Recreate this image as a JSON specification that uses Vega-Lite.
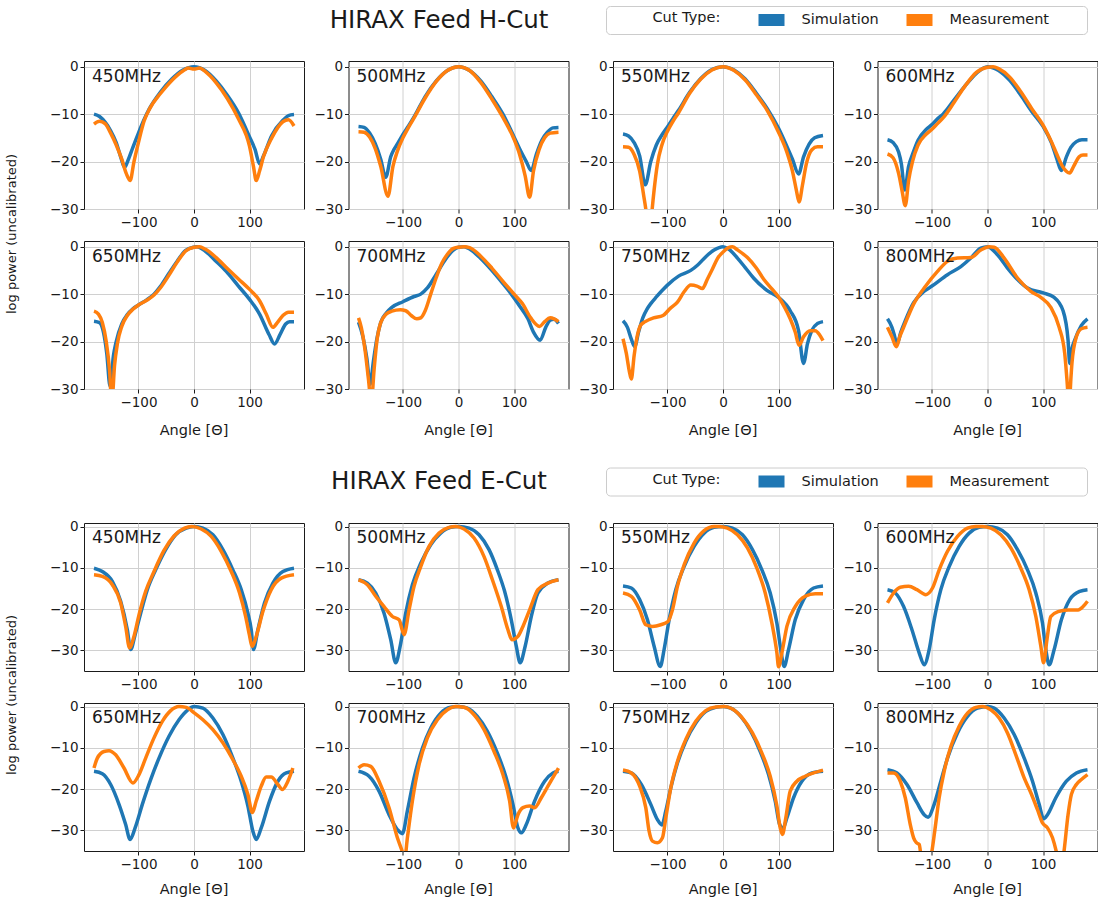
{
"$schema": "https://vega.github.io/schema/vega-lite/v6.json",
"background": "white",
"padding": 5,
"config": {
 "font": "DejaVu Sans",
 "view": {"stroke": "#1a1a1a", "strokeWidth": 1},
 "axis": {"domain": false, "grid": true, "gridColor": "#d0d0d0", "gridWidth": 1, "tickColor": "#1a1a1a", "tickSize": 4, "tickWidth": 1, "labelFontSize": 13.5, "labelColor": "#1a1a1a", "labelPadding": 2},
 "header": {"labelColor": "#1a1a1a", "titleColor": "#1a1a1a"},
 "title": {"fontSize": 24.5, "fontWeight": "normal", "color": "#1a1a1a", "baseline": "alphabetic"},
 "legend": {"direction": "horizontal", "titleOrient": "left", "titleAnchor": "start", "titleBaseline": "top", "titleFontSize": 14.5, "titleFontWeight": "normal", "titleColor": "#1a1a1a", "labelFontSize": 14.5, "labelColor": "#1a1a1a", "symbolType": "M-4,0H4", "symbolSize": 64, "symbolStrokeWidth": 12, "clipHeight": 18, "padding": 5, "strokeColor": "#cccccc", "fillColor": "#ffffff", "cornerRadius": 4, "gridAlign": "each", "columnPadding": 27, "labelOffset": 23, "titlePadding": 37.5}
},
"datasets": {
"hcut": [
{"mhz":450,"src":"Simulation","deg":-180,"db":-10},{"mhz":450,"src":"Simulation","deg":-170,"db":-10.5},{"mhz":450,"src":"Simulation","deg":-160,"db":-11.7},{"mhz":450,"src":"Simulation","deg":-150,"db":-13.5},{"mhz":450,"src":"Simulation","deg":-140,"db":-16},{"mhz":450,"src":"Simulation","deg":-132,"db":-19},{"mhz":450,"src":"Simulation","deg":-125,"db":-21.2},{"mhz":450,"src":"Simulation","deg":-118,"db":-19.5},{"mhz":450,"src":"Simulation","deg":-110,"db":-17},{"mhz":450,"src":"Simulation","deg":-100,"db":-14},{"mhz":450,"src":"Simulation","deg":-90,"db":-11.2},{"mhz":450,"src":"Simulation","deg":-80,"db":-8.8},{"mhz":450,"src":"Simulation","deg":-60,"db":-5.3},{"mhz":450,"src":"Simulation","deg":-40,"db":-2.6},{"mhz":450,"src":"Simulation","deg":-20,"db":-0.7},{"mhz":450,"src":"Simulation","deg":0,"db":0},{"mhz":450,"src":"Simulation","deg":20,"db":-0.8},{"mhz":450,"src":"Simulation","deg":40,"db":-3},{"mhz":450,"src":"Simulation","deg":60,"db":-6},{"mhz":450,"src":"Simulation","deg":80,"db":-9.7},{"mhz":450,"src":"Simulation","deg":100,"db":-14.8},{"mhz":450,"src":"Simulation","deg":110,"db":-17.5},{"mhz":450,"src":"Simulation","deg":118,"db":-20.5},{"mhz":450,"src":"Simulation","deg":125,"db":-18.8},{"mhz":450,"src":"Simulation","deg":140,"db":-14.5},{"mhz":450,"src":"Simulation","deg":160,"db":-11.3},{"mhz":450,"src":"Simulation","deg":170,"db":-10.3},{"mhz":450,"src":"Simulation","deg":180,"db":-10.1},
{"mhz":450,"src":"Measurement","deg":-180,"db":-12.1},{"mhz":450,"src":"Measurement","deg":-170,"db":-11.5},{"mhz":450,"src":"Measurement","deg":-160,"db":-12},{"mhz":450,"src":"Measurement","deg":-150,"db":-14},{"mhz":450,"src":"Measurement","deg":-140,"db":-16.5},{"mhz":450,"src":"Measurement","deg":-130,"db":-19.5},{"mhz":450,"src":"Measurement","deg":-122,"db":-22.5},{"mhz":450,"src":"Measurement","deg":-115,"db":-24},{"mhz":450,"src":"Measurement","deg":-108,"db":-20},{"mhz":450,"src":"Measurement","deg":-100,"db":-16},{"mhz":450,"src":"Measurement","deg":-90,"db":-11.5},{"mhz":450,"src":"Measurement","deg":-80,"db":-8.9},{"mhz":450,"src":"Measurement","deg":-60,"db":-5.6},{"mhz":450,"src":"Measurement","deg":-40,"db":-2.9},{"mhz":450,"src":"Measurement","deg":-20,"db":-0.9},{"mhz":450,"src":"Measurement","deg":-10,"db":-0.3},{"mhz":450,"src":"Measurement","deg":0,"db":-0.5},{"mhz":450,"src":"Measurement","deg":10,"db":-0.3},{"mhz":450,"src":"Measurement","deg":20,"db":-1},{"mhz":450,"src":"Measurement","deg":40,"db":-3.4},{"mhz":450,"src":"Measurement","deg":60,"db":-6.7},{"mhz":450,"src":"Measurement","deg":80,"db":-11},{"mhz":450,"src":"Measurement","deg":100,"db":-16.8},{"mhz":450,"src":"Measurement","deg":107,"db":-21},{"mhz":450,"src":"Measurement","deg":112,"db":-24},{"mhz":450,"src":"Measurement","deg":118,"db":-22},{"mhz":450,"src":"Measurement","deg":125,"db":-19},{"mhz":450,"src":"Measurement","deg":140,"db":-15},{"mhz":450,"src":"Measurement","deg":160,"db":-11.6},{"mhz":450,"src":"Measurement","deg":170,"db":-11.2},{"mhz":450,"src":"Measurement","deg":180,"db":-12.5},
{"mhz":500,"src":"Simulation","deg":-180,"db":-12.6},{"mhz":500,"src":"Simulation","deg":-170,"db":-12.8},{"mhz":500,"src":"Simulation","deg":-160,"db":-14},{"mhz":500,"src":"Simulation","deg":-150,"db":-16.2},{"mhz":500,"src":"Simulation","deg":-140,"db":-19.5},{"mhz":500,"src":"Simulation","deg":-131,"db":-23.3},{"mhz":500,"src":"Simulation","deg":-122,"db":-19},{"mhz":500,"src":"Simulation","deg":-116,"db":-17.4},{"mhz":500,"src":"Simulation","deg":-110,"db":-16.3},{"mhz":500,"src":"Simulation","deg":-100,"db":-14.3},{"mhz":500,"src":"Simulation","deg":-90,"db":-12.5},{"mhz":500,"src":"Simulation","deg":-80,"db":-10.6},{"mhz":500,"src":"Simulation","deg":-60,"db":-6.3},{"mhz":500,"src":"Simulation","deg":-40,"db":-3},{"mhz":500,"src":"Simulation","deg":-20,"db":-0.8},{"mhz":500,"src":"Simulation","deg":0,"db":0},{"mhz":500,"src":"Simulation","deg":20,"db":-0.8},{"mhz":500,"src":"Simulation","deg":40,"db":-3},{"mhz":500,"src":"Simulation","deg":60,"db":-6.3},{"mhz":500,"src":"Simulation","deg":80,"db":-10},{"mhz":500,"src":"Simulation","deg":100,"db":-14.8},{"mhz":500,"src":"Simulation","deg":110,"db":-17.3},{"mhz":500,"src":"Simulation","deg":122,"db":-20},{"mhz":500,"src":"Simulation","deg":131,"db":-21.9},{"mhz":500,"src":"Simulation","deg":140,"db":-18.5},{"mhz":500,"src":"Simulation","deg":150,"db":-15.5},{"mhz":500,"src":"Simulation","deg":160,"db":-13.8},{"mhz":500,"src":"Simulation","deg":170,"db":-12.9},{"mhz":500,"src":"Simulation","deg":180,"db":-12.8},
{"mhz":500,"src":"Measurement","deg":-180,"db":-13.7},{"mhz":500,"src":"Measurement","deg":-170,"db":-13.8},{"mhz":500,"src":"Measurement","deg":-160,"db":-14.8},{"mhz":500,"src":"Measurement","deg":-150,"db":-17.2},{"mhz":500,"src":"Measurement","deg":-140,"db":-21},{"mhz":500,"src":"Measurement","deg":-127,"db":-27.3},{"mhz":500,"src":"Measurement","deg":-118,"db":-21},{"mhz":500,"src":"Measurement","deg":-110,"db":-17.8},{"mhz":500,"src":"Measurement","deg":-100,"db":-15},{"mhz":500,"src":"Measurement","deg":-90,"db":-12.8},{"mhz":500,"src":"Measurement","deg":-80,"db":-10.8},{"mhz":500,"src":"Measurement","deg":-60,"db":-6.6},{"mhz":500,"src":"Measurement","deg":-40,"db":-3.1},{"mhz":500,"src":"Measurement","deg":-20,"db":-0.8},{"mhz":500,"src":"Measurement","deg":0,"db":0},{"mhz":500,"src":"Measurement","deg":20,"db":-0.8},{"mhz":500,"src":"Measurement","deg":40,"db":-3.3},{"mhz":500,"src":"Measurement","deg":60,"db":-6.8},{"mhz":500,"src":"Measurement","deg":80,"db":-10.7},{"mhz":500,"src":"Measurement","deg":100,"db":-15.3},{"mhz":500,"src":"Measurement","deg":110,"db":-18.5},{"mhz":500,"src":"Measurement","deg":120,"db":-23},{"mhz":500,"src":"Measurement","deg":128,"db":-27.5},{"mhz":500,"src":"Measurement","deg":135,"db":-22},{"mhz":500,"src":"Measurement","deg":145,"db":-17.5},{"mhz":500,"src":"Measurement","deg":155,"db":-15},{"mhz":500,"src":"Measurement","deg":165,"db":-14},{"mhz":500,"src":"Measurement","deg":180,"db":-13.8},
{"mhz":550,"src":"Simulation","deg":-180,"db":-14.2},{"mhz":550,"src":"Simulation","deg":-170,"db":-14.6},{"mhz":550,"src":"Simulation","deg":-160,"db":-16},{"mhz":550,"src":"Simulation","deg":-150,"db":-18.8},{"mhz":550,"src":"Simulation","deg":-140,"db":-24.9},{"mhz":550,"src":"Simulation","deg":-130,"db":-20},{"mhz":550,"src":"Simulation","deg":-120,"db":-16.5},{"mhz":550,"src":"Simulation","deg":-110,"db":-14.4},{"mhz":550,"src":"Simulation","deg":-100,"db":-12.7},{"mhz":550,"src":"Simulation","deg":-90,"db":-10.9},{"mhz":550,"src":"Simulation","deg":-80,"db":-9.2},{"mhz":550,"src":"Simulation","deg":-60,"db":-5.4},{"mhz":550,"src":"Simulation","deg":-40,"db":-2.5},{"mhz":550,"src":"Simulation","deg":-20,"db":-0.6},{"mhz":550,"src":"Simulation","deg":0,"db":0},{"mhz":550,"src":"Simulation","deg":20,"db":-0.7},{"mhz":550,"src":"Simulation","deg":40,"db":-2.6},{"mhz":550,"src":"Simulation","deg":60,"db":-5.6},{"mhz":550,"src":"Simulation","deg":80,"db":-8.9},{"mhz":550,"src":"Simulation","deg":100,"db":-13},{"mhz":550,"src":"Simulation","deg":115,"db":-16.8},{"mhz":550,"src":"Simulation","deg":125,"db":-19.5},{"mhz":550,"src":"Simulation","deg":136,"db":-22.6},{"mhz":550,"src":"Simulation","deg":145,"db":-19},{"mhz":550,"src":"Simulation","deg":155,"db":-16.3},{"mhz":550,"src":"Simulation","deg":165,"db":-15},{"mhz":550,"src":"Simulation","deg":180,"db":-14.5},
{"mhz":550,"src":"Measurement","deg":-180,"db":-16.9},{"mhz":550,"src":"Measurement","deg":-170,"db":-17},{"mhz":550,"src":"Measurement","deg":-160,"db":-18.5},{"mhz":550,"src":"Measurement","deg":-150,"db":-22},{"mhz":550,"src":"Measurement","deg":-143,"db":-27},{"mhz":550,"src":"Measurement","deg":-137,"db":-32},{"mhz":550,"src":"Measurement","deg":-133,"db":-38},{"mhz":550,"src":"Measurement","deg":-129,"db":-32},{"mhz":550,"src":"Measurement","deg":-124,"db":-26},{"mhz":550,"src":"Measurement","deg":-118,"db":-20.5},{"mhz":550,"src":"Measurement","deg":-110,"db":-16.5},{"mhz":550,"src":"Measurement","deg":-100,"db":-13.6},{"mhz":550,"src":"Measurement","deg":-90,"db":-11.5},{"mhz":550,"src":"Measurement","deg":-80,"db":-9.7},{"mhz":550,"src":"Measurement","deg":-60,"db":-5.6},{"mhz":550,"src":"Measurement","deg":-40,"db":-2.6},{"mhz":550,"src":"Measurement","deg":-20,"db":-0.7},{"mhz":550,"src":"Measurement","deg":0,"db":0},{"mhz":550,"src":"Measurement","deg":20,"db":-0.8},{"mhz":550,"src":"Measurement","deg":40,"db":-2.8},{"mhz":550,"src":"Measurement","deg":60,"db":-5.9},{"mhz":550,"src":"Measurement","deg":80,"db":-9.3},{"mhz":550,"src":"Measurement","deg":100,"db":-13.8},{"mhz":550,"src":"Measurement","deg":115,"db":-18},{"mhz":550,"src":"Measurement","deg":125,"db":-22},{"mhz":550,"src":"Measurement","deg":132,"db":-26},{"mhz":550,"src":"Measurement","deg":137,"db":-28.5},{"mhz":550,"src":"Measurement","deg":143,"db":-25},{"mhz":550,"src":"Measurement","deg":150,"db":-20.5},{"mhz":550,"src":"Measurement","deg":160,"db":-17.5},{"mhz":550,"src":"Measurement","deg":170,"db":-16.9},{"mhz":550,"src":"Measurement","deg":180,"db":-16.9},
{"mhz":600,"src":"Simulation","deg":-180,"db":-15.4},{"mhz":600,"src":"Simulation","deg":-170,"db":-16},{"mhz":600,"src":"Simulation","deg":-160,"db":-18},{"mhz":600,"src":"Simulation","deg":-155,"db":-20.5},{"mhz":600,"src":"Simulation","deg":-149,"db":-26},{"mhz":600,"src":"Simulation","deg":-142,"db":-21},{"mhz":600,"src":"Simulation","deg":-135,"db":-18.5},{"mhz":600,"src":"Simulation","deg":-125,"db":-15.5},{"mhz":600,"src":"Simulation","deg":-110,"db":-13.2},{"mhz":600,"src":"Simulation","deg":-100,"db":-12.2},{"mhz":600,"src":"Simulation","deg":-90,"db":-11},{"mhz":600,"src":"Simulation","deg":-80,"db":-10},{"mhz":600,"src":"Simulation","deg":-60,"db":-7},{"mhz":600,"src":"Simulation","deg":-40,"db":-4},{"mhz":600,"src":"Simulation","deg":-20,"db":-1.4},{"mhz":600,"src":"Simulation","deg":0,"db":0},{"mhz":600,"src":"Simulation","deg":20,"db":-0.8},{"mhz":600,"src":"Simulation","deg":40,"db":-2.9},{"mhz":600,"src":"Simulation","deg":60,"db":-6},{"mhz":600,"src":"Simulation","deg":80,"db":-9.5},{"mhz":600,"src":"Simulation","deg":100,"db":-12.6},{"mhz":600,"src":"Simulation","deg":115,"db":-16},{"mhz":600,"src":"Simulation","deg":125,"db":-19.5},{"mhz":600,"src":"Simulation","deg":133,"db":-21.9},{"mhz":600,"src":"Simulation","deg":142,"db":-19},{"mhz":600,"src":"Simulation","deg":150,"db":-17},{"mhz":600,"src":"Simulation","deg":160,"db":-15.8},{"mhz":600,"src":"Simulation","deg":170,"db":-15.4},{"mhz":600,"src":"Simulation","deg":180,"db":-15.4},
{"mhz":600,"src":"Measurement","deg":-180,"db":-18.4},{"mhz":600,"src":"Measurement","deg":-170,"db":-19.2},{"mhz":600,"src":"Measurement","deg":-160,"db":-22.5},{"mhz":600,"src":"Measurement","deg":-154,"db":-26},{"mhz":600,"src":"Measurement","deg":-148,"db":-29.3},{"mhz":600,"src":"Measurement","deg":-142,"db":-24},{"mhz":600,"src":"Measurement","deg":-135,"db":-20},{"mhz":600,"src":"Measurement","deg":-125,"db":-16.5},{"mhz":600,"src":"Measurement","deg":-110,"db":-14.2},{"mhz":600,"src":"Measurement","deg":-100,"db":-13.2},{"mhz":600,"src":"Measurement","deg":-90,"db":-12},{"mhz":600,"src":"Measurement","deg":-80,"db":-10.8},{"mhz":600,"src":"Measurement","deg":-60,"db":-7.5},{"mhz":600,"src":"Measurement","deg":-40,"db":-4},{"mhz":600,"src":"Measurement","deg":-20,"db":-1.2},{"mhz":600,"src":"Measurement","deg":0,"db":-0.1},{"mhz":600,"src":"Measurement","deg":10,"db":0},{"mhz":600,"src":"Measurement","deg":20,"db":-0.4},{"mhz":600,"src":"Measurement","deg":40,"db":-2.2},{"mhz":600,"src":"Measurement","deg":60,"db":-5.3},{"mhz":600,"src":"Measurement","deg":80,"db":-8.9},{"mhz":600,"src":"Measurement","deg":100,"db":-12.3},{"mhz":600,"src":"Measurement","deg":115,"db":-15.8},{"mhz":600,"src":"Measurement","deg":125,"db":-18.5},{"mhz":600,"src":"Measurement","deg":135,"db":-21},{"mhz":600,"src":"Measurement","deg":148,"db":-22.4},{"mhz":600,"src":"Measurement","deg":155,"db":-21},{"mhz":600,"src":"Measurement","deg":165,"db":-19},{"mhz":600,"src":"Measurement","deg":172,"db":-18.6},{"mhz":600,"src":"Measurement","deg":180,"db":-18.6},
{"mhz":650,"src":"Simulation","deg":-180,"db":-15.7},{"mhz":650,"src":"Simulation","deg":-170,"db":-16},{"mhz":650,"src":"Simulation","deg":-163,"db":-18},{"mhz":650,"src":"Simulation","deg":-157,"db":-22.5},{"mhz":650,"src":"Simulation","deg":-151,"db":-29.5},{"mhz":650,"src":"Simulation","deg":-145,"db":-23},{"mhz":650,"src":"Simulation","deg":-140,"db":-20},{"mhz":650,"src":"Simulation","deg":-130,"db":-16.3},{"mhz":650,"src":"Simulation","deg":-120,"db":-14.3},{"mhz":650,"src":"Simulation","deg":-110,"db":-13.1},{"mhz":650,"src":"Simulation","deg":-100,"db":-12.3},{"mhz":650,"src":"Simulation","deg":-85,"db":-11.2},{"mhz":650,"src":"Simulation","deg":-72,"db":-10},{"mhz":650,"src":"Simulation","deg":-60,"db":-8.3},{"mhz":650,"src":"Simulation","deg":-45,"db":-5.6},{"mhz":650,"src":"Simulation","deg":-30,"db":-3},{"mhz":650,"src":"Simulation","deg":-15,"db":-0.8},{"mhz":650,"src":"Simulation","deg":0,"db":-0.1},{"mhz":650,"src":"Simulation","deg":5,"db":0},{"mhz":650,"src":"Simulation","deg":20,"db":-0.9},{"mhz":650,"src":"Simulation","deg":40,"db":-3.1},{"mhz":650,"src":"Simulation","deg":58,"db":-5.2},{"mhz":650,"src":"Simulation","deg":80,"db":-8.3},{"mhz":650,"src":"Simulation","deg":100,"db":-11.1},{"mhz":650,"src":"Simulation","deg":118,"db":-14.2},{"mhz":650,"src":"Simulation","deg":135,"db":-18.5},{"mhz":650,"src":"Simulation","deg":145,"db":-20.5},{"mhz":650,"src":"Simulation","deg":155,"db":-18.5},{"mhz":650,"src":"Simulation","deg":165,"db":-16.3},{"mhz":650,"src":"Simulation","deg":172,"db":-15.8},{"mhz":650,"src":"Simulation","deg":180,"db":-15.8},
{"mhz":650,"src":"Measurement","deg":-180,"db":-13.6},{"mhz":650,"src":"Measurement","deg":-172,"db":-14.2},{"mhz":650,"src":"Measurement","deg":-165,"db":-16},{"mhz":650,"src":"Measurement","deg":-158,"db":-20},{"mhz":650,"src":"Measurement","deg":-152,"db":-26},{"mhz":650,"src":"Measurement","deg":-148,"db":-33},{"mhz":650,"src":"Measurement","deg":-143,"db":-25},{"mhz":650,"src":"Measurement","deg":-138,"db":-20.5},{"mhz":650,"src":"Measurement","deg":-130,"db":-16.8},{"mhz":650,"src":"Measurement","deg":-120,"db":-14.5},{"mhz":650,"src":"Measurement","deg":-110,"db":-13.2},{"mhz":650,"src":"Measurement","deg":-100,"db":-12.3},{"mhz":650,"src":"Measurement","deg":-85,"db":-11.3},{"mhz":650,"src":"Measurement","deg":-72,"db":-10.2},{"mhz":650,"src":"Measurement","deg":-60,"db":-8.6},{"mhz":650,"src":"Measurement","deg":-45,"db":-6},{"mhz":650,"src":"Measurement","deg":-30,"db":-3.2},{"mhz":650,"src":"Measurement","deg":-15,"db":-0.9},{"mhz":650,"src":"Measurement","deg":0,"db":-0.1},{"mhz":650,"src":"Measurement","deg":10,"db":0},{"mhz":650,"src":"Measurement","deg":20,"db":-0.5},{"mhz":650,"src":"Measurement","deg":40,"db":-2.3},{"mhz":650,"src":"Measurement","deg":60,"db":-4.6},{"mhz":650,"src":"Measurement","deg":80,"db":-6.8},{"mhz":650,"src":"Measurement","deg":100,"db":-9},{"mhz":650,"src":"Measurement","deg":118,"db":-11.4},{"mhz":650,"src":"Measurement","deg":130,"db":-14.2},{"mhz":650,"src":"Measurement","deg":142,"db":-17},{"mhz":650,"src":"Measurement","deg":150,"db":-16},{"mhz":650,"src":"Measurement","deg":160,"db":-14.5},{"mhz":650,"src":"Measurement","deg":170,"db":-13.8},{"mhz":650,"src":"Measurement","deg":180,"db":-13.8},
{"mhz":700,"src":"Simulation","deg":-180,"db":-15.9},{"mhz":700,"src":"Simulation","deg":-172,"db":-19},{"mhz":700,"src":"Simulation","deg":-165,"db":-23.5},{"mhz":700,"src":"Simulation","deg":-159,"db":-29},{"mhz":700,"src":"Simulation","deg":-153,"db":-24},{"mhz":700,"src":"Simulation","deg":-147,"db":-19.5},{"mhz":700,"src":"Simulation","deg":-140,"db":-16},{"mhz":700,"src":"Simulation","deg":-130,"db":-14},{"mhz":700,"src":"Simulation","deg":-120,"db":-12.8},{"mhz":700,"src":"Simulation","deg":-100,"db":-11.6},{"mhz":700,"src":"Simulation","deg":-80,"db":-10.5},{"mhz":700,"src":"Simulation","deg":-68,"db":-10},{"mhz":700,"src":"Simulation","deg":-56,"db":-8.7},{"mhz":700,"src":"Simulation","deg":-40,"db":-5.8},{"mhz":700,"src":"Simulation","deg":-26,"db":-3.1},{"mhz":700,"src":"Simulation","deg":-10,"db":-0.8},{"mhz":700,"src":"Simulation","deg":0,"db":-0.1},{"mhz":700,"src":"Simulation","deg":10,"db":0},{"mhz":700,"src":"Simulation","deg":20,"db":-0.5},{"mhz":700,"src":"Simulation","deg":40,"db":-2.5},{"mhz":700,"src":"Simulation","deg":60,"db":-5},{"mhz":700,"src":"Simulation","deg":80,"db":-7.8},{"mhz":700,"src":"Simulation","deg":95,"db":-10},{"mhz":700,"src":"Simulation","deg":110,"db":-12.5},{"mhz":700,"src":"Simulation","deg":125,"db":-15.2},{"mhz":700,"src":"Simulation","deg":135,"db":-18},{"mhz":700,"src":"Simulation","deg":147,"db":-19.7},{"mhz":700,"src":"Simulation","deg":157,"db":-17},{"mhz":700,"src":"Simulation","deg":165,"db":-15.5},{"mhz":700,"src":"Simulation","deg":172,"db":-15.3},{"mhz":700,"src":"Simulation","deg":180,"db":-16.2},
{"mhz":700,"src":"Measurement","deg":-180,"db":-15},{"mhz":700,"src":"Measurement","deg":-175,"db":-17},{"mhz":700,"src":"Measurement","deg":-168,"db":-22},{"mhz":700,"src":"Measurement","deg":-162,"db":-28},{"mhz":700,"src":"Measurement","deg":-157,"db":-33},{"mhz":700,"src":"Measurement","deg":-152,"db":-26},{"mhz":700,"src":"Measurement","deg":-147,"db":-20},{"mhz":700,"src":"Measurement","deg":-140,"db":-16},{"mhz":700,"src":"Measurement","deg":-130,"db":-14.2},{"mhz":700,"src":"Measurement","deg":-120,"db":-13.6},{"mhz":700,"src":"Measurement","deg":-105,"db":-13.3},{"mhz":700,"src":"Measurement","deg":-95,"db":-13.5},{"mhz":700,"src":"Measurement","deg":-85,"db":-14.5},{"mhz":700,"src":"Measurement","deg":-75,"db":-15.2},{"mhz":700,"src":"Measurement","deg":-68,"db":-15},{"mhz":700,"src":"Measurement","deg":-60,"db":-13.5},{"mhz":700,"src":"Measurement","deg":-50,"db":-10},{"mhz":700,"src":"Measurement","deg":-40,"db":-6.5},{"mhz":700,"src":"Measurement","deg":-30,"db":-3.5},{"mhz":700,"src":"Measurement","deg":-20,"db":-1.6},{"mhz":700,"src":"Measurement","deg":-10,"db":-0.4},{"mhz":700,"src":"Measurement","deg":0,"db":-0.1},{"mhz":700,"src":"Measurement","deg":10,"db":0},{"mhz":700,"src":"Measurement","deg":20,"db":-0.2},{"mhz":700,"src":"Measurement","deg":40,"db":-2},{"mhz":700,"src":"Measurement","deg":60,"db":-4.5},{"mhz":700,"src":"Measurement","deg":80,"db":-7.3},{"mhz":700,"src":"Measurement","deg":100,"db":-10},{"mhz":700,"src":"Measurement","deg":115,"db":-12},{"mhz":700,"src":"Measurement","deg":130,"db":-15},{"mhz":700,"src":"Measurement","deg":146,"db":-16.8},{"mhz":700,"src":"Measurement","deg":155,"db":-15.8},{"mhz":700,"src":"Measurement","deg":165,"db":-15},{"mhz":700,"src":"Measurement","deg":172,"db":-15.2},{"mhz":700,"src":"Measurement","deg":180,"db":-15.8},
{"mhz":750,"src":"Simulation","deg":-180,"db":-15.6},{"mhz":750,"src":"Simulation","deg":-172,"db":-17},{"mhz":750,"src":"Simulation","deg":-165,"db":-19.5},{"mhz":750,"src":"Simulation","deg":-159,"db":-21.1},{"mhz":750,"src":"Simulation","deg":-152,"db":-18},{"mhz":750,"src":"Simulation","deg":-144,"db":-14.9},{"mhz":750,"src":"Simulation","deg":-137,"db":-13.2},{"mhz":750,"src":"Simulation","deg":-130,"db":-12},{"mhz":750,"src":"Simulation","deg":-120,"db":-10.6},{"mhz":750,"src":"Simulation","deg":-110,"db":-9.3},{"mhz":750,"src":"Simulation","deg":-100,"db":-8.1},{"mhz":750,"src":"Simulation","deg":-80,"db":-6.2},{"mhz":750,"src":"Simulation","deg":-58,"db":-5},{"mhz":750,"src":"Simulation","deg":-45,"db":-3.8},{"mhz":750,"src":"Simulation","deg":-30,"db":-2},{"mhz":750,"src":"Simulation","deg":-16,"db":-0.7},{"mhz":750,"src":"Simulation","deg":0,"db":0},{"mhz":750,"src":"Simulation","deg":10,"db":-0.5},{"mhz":750,"src":"Simulation","deg":26,"db":-2.4},{"mhz":750,"src":"Simulation","deg":40,"db":-4.4},{"mhz":750,"src":"Simulation","deg":55,"db":-6.6},{"mhz":750,"src":"Simulation","deg":79,"db":-9.2},{"mhz":750,"src":"Simulation","deg":100,"db":-10.7},{"mhz":750,"src":"Simulation","deg":121,"db":-13.5},{"mhz":750,"src":"Simulation","deg":136,"db":-17.7},{"mhz":750,"src":"Simulation","deg":145,"db":-24.6},{"mhz":750,"src":"Simulation","deg":152,"db":-20.5},{"mhz":750,"src":"Simulation","deg":160,"db":-17.6},{"mhz":750,"src":"Simulation","deg":170,"db":-16.2},{"mhz":750,"src":"Simulation","deg":180,"db":-15.8},
{"mhz":750,"src":"Measurement","deg":-180,"db":-19.4},{"mhz":750,"src":"Measurement","deg":-174,"db":-22.5},{"mhz":750,"src":"Measurement","deg":-169,"db":-26},{"mhz":750,"src":"Measurement","deg":-165,"db":-27.9},{"mhz":750,"src":"Measurement","deg":-160,"db":-23},{"mhz":750,"src":"Measurement","deg":-155,"db":-19.2},{"mhz":750,"src":"Measurement","deg":-148,"db":-16.5},{"mhz":750,"src":"Measurement","deg":-140,"db":-15.8},{"mhz":750,"src":"Measurement","deg":-125,"db":-15},{"mhz":750,"src":"Measurement","deg":-108,"db":-14.5},{"mhz":750,"src":"Measurement","deg":-95,"db":-13},{"mhz":750,"src":"Measurement","deg":-82,"db":-11.7},{"mhz":750,"src":"Measurement","deg":-70,"db":-9.5},{"mhz":750,"src":"Measurement","deg":-58,"db":-8.1},{"mhz":750,"src":"Measurement","deg":-47,"db":-8.3},{"mhz":750,"src":"Measurement","deg":-37,"db":-8.8},{"mhz":750,"src":"Measurement","deg":-28,"db":-6.8},{"mhz":750,"src":"Measurement","deg":-19,"db":-4.7},{"mhz":750,"src":"Measurement","deg":-10,"db":-2.5},{"mhz":750,"src":"Measurement","deg":2,"db":-0.9},{"mhz":750,"src":"Measurement","deg":10,"db":-0.2},{"mhz":750,"src":"Measurement","deg":17,"db":0},{"mhz":750,"src":"Measurement","deg":25,"db":-0.6},{"mhz":750,"src":"Measurement","deg":44,"db":-2.3},{"mhz":750,"src":"Measurement","deg":60,"db":-4.5},{"mhz":750,"src":"Measurement","deg":73,"db":-6.8},{"mhz":750,"src":"Measurement","deg":88,"db":-8.9},{"mhz":750,"src":"Measurement","deg":100,"db":-10.6},{"mhz":750,"src":"Measurement","deg":111,"db":-12.8},{"mhz":750,"src":"Measurement","deg":121,"db":-15.2},{"mhz":750,"src":"Measurement","deg":130,"db":-18},{"mhz":750,"src":"Measurement","deg":137,"db":-20.8},{"mhz":750,"src":"Measurement","deg":145,"db":-19},{"mhz":750,"src":"Measurement","deg":157,"db":-17.7},{"mhz":750,"src":"Measurement","deg":166,"db":-17.7},{"mhz":750,"src":"Measurement","deg":174,"db":-18.6},{"mhz":750,"src":"Measurement","deg":180,"db":-19.8},
{"mhz":800,"src":"Simulation","deg":-180,"db":-15.2},{"mhz":800,"src":"Simulation","deg":-172,"db":-17},{"mhz":800,"src":"Simulation","deg":-168,"db":-18.5},{"mhz":800,"src":"Simulation","deg":-163,"db":-20.6},{"mhz":800,"src":"Simulation","deg":-156,"db":-18},{"mhz":800,"src":"Simulation","deg":-148,"db":-15.6},{"mhz":800,"src":"Simulation","deg":-133,"db":-11.8},{"mhz":800,"src":"Simulation","deg":-114,"db":-9.4},{"mhz":800,"src":"Simulation","deg":-100,"db":-8.3},{"mhz":800,"src":"Simulation","deg":-72,"db":-5.9},{"mhz":800,"src":"Simulation","deg":-48,"db":-4.2},{"mhz":800,"src":"Simulation","deg":-30,"db":-2.4},{"mhz":800,"src":"Simulation","deg":-12,"db":-0.3},{"mhz":800,"src":"Simulation","deg":0,"db":0},{"mhz":800,"src":"Simulation","deg":18,"db":-1.7},{"mhz":800,"src":"Simulation","deg":36,"db":-4.5},{"mhz":800,"src":"Simulation","deg":54,"db":-6.9},{"mhz":800,"src":"Simulation","deg":72,"db":-8.7},{"mhz":800,"src":"Simulation","deg":99,"db":-9.7},{"mhz":800,"src":"Simulation","deg":120,"db":-10.7},{"mhz":800,"src":"Simulation","deg":136,"db":-13.5},{"mhz":800,"src":"Simulation","deg":145,"db":-19.7},{"mhz":800,"src":"Simulation","deg":148,"db":-24.6},{"mhz":800,"src":"Simulation","deg":152,"db":-21.5},{"mhz":800,"src":"Simulation","deg":157,"db":-19.7},{"mhz":800,"src":"Simulation","deg":169,"db":-16.6},{"mhz":800,"src":"Simulation","deg":180,"db":-15.2},
{"mhz":800,"src":"Measurement","deg":-180,"db":-17},{"mhz":800,"src":"Measurement","deg":-172,"db":-19},{"mhz":800,"src":"Measurement","deg":-164,"db":-21.1},{"mhz":800,"src":"Measurement","deg":-158,"db":-19},{"mhz":800,"src":"Measurement","deg":-151,"db":-17},{"mhz":800,"src":"Measurement","deg":-133,"db":-12.1},{"mhz":800,"src":"Measurement","deg":-114,"db":-8.7},{"mhz":800,"src":"Measurement","deg":-90,"db":-5.2},{"mhz":800,"src":"Measurement","deg":-72,"db":-3.1},{"mhz":800,"src":"Measurement","deg":-54,"db":-2.4},{"mhz":800,"src":"Measurement","deg":-30,"db":-2.3},{"mhz":800,"src":"Measurement","deg":-12,"db":-0.7},{"mhz":800,"src":"Measurement","deg":3,"db":0},{"mhz":800,"src":"Measurement","deg":12,"db":-0.1},{"mhz":800,"src":"Measurement","deg":30,"db":-2.4},{"mhz":800,"src":"Measurement","deg":54,"db":-6.6},{"mhz":800,"src":"Measurement","deg":78,"db":-9.4},{"mhz":800,"src":"Measurement","deg":96,"db":-10.7},{"mhz":800,"src":"Measurement","deg":114,"db":-12.8},{"mhz":800,"src":"Measurement","deg":129,"db":-17},{"mhz":800,"src":"Measurement","deg":139,"db":-22.5},{"mhz":800,"src":"Measurement","deg":143,"db":-28},{"mhz":800,"src":"Measurement","deg":147,"db":-34},{"mhz":800,"src":"Measurement","deg":150,"db":-28},{"mhz":800,"src":"Measurement","deg":152,"db":-24.6},{"mhz":800,"src":"Measurement","deg":160,"db":-19},{"mhz":800,"src":"Measurement","deg":169,"db":-17.3},{"mhz":800,"src":"Measurement","deg":180,"db":-17}
],
"ecut": [
{"mhz":450,"src":"Simulation","deg":-180,"db":-10.1},{"mhz":450,"src":"Simulation","deg":-165,"db":-10.9},{"mhz":450,"src":"Simulation","deg":-147,"db":-13.3},{"mhz":450,"src":"Simulation","deg":-132,"db":-18.1},{"mhz":450,"src":"Simulation","deg":-120,"db":-25},{"mhz":450,"src":"Simulation","deg":-114,"db":-29.8},{"mhz":450,"src":"Simulation","deg":-106,"db":-26.2},{"mhz":450,"src":"Simulation","deg":-96,"db":-21},{"mhz":450,"src":"Simulation","deg":-84,"db":-15.3},{"mhz":450,"src":"Simulation","deg":-69,"db":-10.5},{"mhz":450,"src":"Simulation","deg":-51,"db":-5.6},{"mhz":450,"src":"Simulation","deg":-33,"db":-2},{"mhz":450,"src":"Simulation","deg":-14,"db":-0.4},{"mhz":450,"src":"Simulation","deg":0,"db":0},{"mhz":450,"src":"Simulation","deg":16,"db":-0.4},{"mhz":450,"src":"Simulation","deg":34,"db":-2},{"mhz":450,"src":"Simulation","deg":52,"db":-5.6},{"mhz":450,"src":"Simulation","deg":70,"db":-10.5},{"mhz":450,"src":"Simulation","deg":85,"db":-15.3},{"mhz":450,"src":"Simulation","deg":97,"db":-21},{"mhz":450,"src":"Simulation","deg":103,"db":-25},{"mhz":450,"src":"Simulation","deg":107,"db":-29.8},{"mhz":450,"src":"Simulation","deg":115,"db":-25},{"mhz":450,"src":"Simulation","deg":127,"db":-18.5},{"mhz":450,"src":"Simulation","deg":142,"db":-13.7},{"mhz":450,"src":"Simulation","deg":160,"db":-10.9},{"mhz":450,"src":"Simulation","deg":180,"db":-10.1},
{"mhz":450,"src":"Measurement","deg":-180,"db":-11.7},{"mhz":450,"src":"Measurement","deg":-165,"db":-12.1},{"mhz":450,"src":"Measurement","deg":-147,"db":-14.1},{"mhz":450,"src":"Measurement","deg":-132,"db":-18.5},{"mhz":450,"src":"Measurement","deg":-123,"db":-24.2},{"mhz":450,"src":"Measurement","deg":-116,"db":-29.4},{"mhz":450,"src":"Measurement","deg":-108,"db":-26.6},{"mhz":450,"src":"Measurement","deg":-99,"db":-21.4},{"mhz":450,"src":"Measurement","deg":-87,"db":-15.7},{"mhz":450,"src":"Measurement","deg":-72,"db":-10.9},{"mhz":450,"src":"Measurement","deg":-54,"db":-5.8},{"mhz":450,"src":"Measurement","deg":-36,"db":-2.3},{"mhz":450,"src":"Measurement","deg":-17,"db":-0.4},{"mhz":450,"src":"Measurement","deg":-4,"db":0},{"mhz":450,"src":"Measurement","deg":13,"db":-0.6},{"mhz":450,"src":"Measurement","deg":31,"db":-2.4},{"mhz":450,"src":"Measurement","deg":49,"db":-6},{"mhz":450,"src":"Measurement","deg":67,"db":-10.9},{"mhz":450,"src":"Measurement","deg":82,"db":-16.1},{"mhz":450,"src":"Measurement","deg":93,"db":-21.8},{"mhz":450,"src":"Measurement","deg":99,"db":-25.8},{"mhz":450,"src":"Measurement","deg":105,"db":-29},{"mhz":450,"src":"Measurement","deg":112,"db":-26.6},{"mhz":450,"src":"Measurement","deg":124,"db":-20.6},{"mhz":450,"src":"Measurement","deg":139,"db":-15.3},{"mhz":450,"src":"Measurement","deg":157,"db":-12.5},{"mhz":450,"src":"Measurement","deg":180,"db":-11.7},
{"mhz":500,"src":"Simulation","deg":-180,"db":-12.9},{"mhz":500,"src":"Simulation","deg":-164,"db":-13.7},{"mhz":500,"src":"Simulation","deg":-149,"db":-16.1},{"mhz":500,"src":"Simulation","deg":-134,"db":-21},{"mhz":500,"src":"Simulation","deg":-122,"db":-27.4},{"mhz":500,"src":"Simulation","deg":-113,"db":-33},{"mhz":500,"src":"Simulation","deg":-105,"db":-29},{"mhz":500,"src":"Simulation","deg":-95,"db":-21},{"mhz":500,"src":"Simulation","deg":-83,"db":-14.1},{"mhz":500,"src":"Simulation","deg":-68,"db":-8.9},{"mhz":500,"src":"Simulation","deg":-50,"db":-4.4},{"mhz":500,"src":"Simulation","deg":-32,"db":-1.6},{"mhz":500,"src":"Simulation","deg":-14,"db":-0.2},{"mhz":500,"src":"Simulation","deg":0,"db":0},{"mhz":500,"src":"Simulation","deg":19,"db":-0.4},{"mhz":500,"src":"Simulation","deg":37,"db":-2},{"mhz":500,"src":"Simulation","deg":55,"db":-5.6},{"mhz":500,"src":"Simulation","deg":70,"db":-10.5},{"mhz":500,"src":"Simulation","deg":83,"db":-15.7},{"mhz":500,"src":"Simulation","deg":95,"db":-22.6},{"mhz":500,"src":"Simulation","deg":104,"db":-29},{"mhz":500,"src":"Simulation","deg":111,"db":-33},{"mhz":500,"src":"Simulation","deg":120,"db":-29},{"mhz":500,"src":"Simulation","deg":131,"db":-21.8},{"mhz":500,"src":"Simulation","deg":143,"db":-16.1},{"mhz":500,"src":"Simulation","deg":161,"db":-13.7},{"mhz":500,"src":"Simulation","deg":180,"db":-12.9},
{"mhz":500,"src":"Measurement","deg":-180,"db":-12.9},{"mhz":500,"src":"Measurement","deg":-164,"db":-14.1},{"mhz":500,"src":"Measurement","deg":-149,"db":-16.9},{"mhz":500,"src":"Measurement","deg":-134,"db":-19.4},{"mhz":500,"src":"Measurement","deg":-119,"db":-21.8},{"mhz":500,"src":"Measurement","deg":-107,"db":-22.6},{"mhz":500,"src":"Measurement","deg":-98,"db":-26.2},{"mhz":500,"src":"Measurement","deg":-89,"db":-20.2},{"mhz":500,"src":"Measurement","deg":-80,"db":-14.5},{"mhz":500,"src":"Measurement","deg":-68,"db":-9.7},{"mhz":500,"src":"Measurement","deg":-53,"db":-4.8},{"mhz":500,"src":"Measurement","deg":-35,"db":-1.6},{"mhz":500,"src":"Measurement","deg":-17,"db":-0.2},{"mhz":500,"src":"Measurement","deg":-5,"db":0},{"mhz":500,"src":"Measurement","deg":10,"db":-0.6},{"mhz":500,"src":"Measurement","deg":28,"db":-2.8},{"mhz":500,"src":"Measurement","deg":46,"db":-7.3},{"mhz":500,"src":"Measurement","deg":61,"db":-12.9},{"mhz":500,"src":"Measurement","deg":77,"db":-19.4},{"mhz":500,"src":"Measurement","deg":89,"db":-25},{"mhz":500,"src":"Measurement","deg":96,"db":-27.4},{"mhz":500,"src":"Measurement","deg":107,"db":-26.6},{"mhz":500,"src":"Measurement","deg":116,"db":-24.2},{"mhz":500,"src":"Measurement","deg":128,"db":-20.2},{"mhz":500,"src":"Measurement","deg":143,"db":-15.3},{"mhz":500,"src":"Measurement","deg":161,"db":-13.7},{"mhz":500,"src":"Measurement","deg":180,"db":-12.9},
{"mhz":550,"src":"Simulation","deg":-180,"db":-14.4},{"mhz":550,"src":"Simulation","deg":-165,"db":-14.9},{"mhz":550,"src":"Simulation","deg":-150,"db":-17.7},{"mhz":550,"src":"Simulation","deg":-136,"db":-22.6},{"mhz":550,"src":"Simulation","deg":-124,"db":-29},{"mhz":550,"src":"Simulation","deg":-113,"db":-33.9},{"mhz":550,"src":"Simulation","deg":-106,"db":-29.8},{"mhz":550,"src":"Simulation","deg":-97,"db":-22.6},{"mhz":550,"src":"Simulation","deg":-85,"db":-15.3},{"mhz":550,"src":"Simulation","deg":-70,"db":-9.7},{"mhz":550,"src":"Simulation","deg":-52,"db":-4.8},{"mhz":550,"src":"Simulation","deg":-34,"db":-1.6},{"mhz":550,"src":"Simulation","deg":-16,"db":-0.2},{"mhz":550,"src":"Simulation","deg":0,"db":0},{"mhz":550,"src":"Simulation","deg":17,"db":-0.4},{"mhz":550,"src":"Simulation","deg":35,"db":-2},{"mhz":550,"src":"Simulation","deg":53,"db":-5.6},{"mhz":550,"src":"Simulation","deg":70,"db":-10.5},{"mhz":550,"src":"Simulation","deg":85,"db":-16.1},{"mhz":550,"src":"Simulation","deg":97,"db":-23.4},{"mhz":550,"src":"Simulation","deg":104,"db":-29.8},{"mhz":550,"src":"Simulation","deg":110,"db":-33.9},{"mhz":550,"src":"Simulation","deg":118,"db":-29.8},{"mhz":550,"src":"Simulation","deg":130,"db":-22.6},{"mhz":550,"src":"Simulation","deg":145,"db":-17.7},{"mhz":550,"src":"Simulation","deg":163,"db":-14.9},{"mhz":550,"src":"Simulation","deg":180,"db":-14.4},
{"mhz":550,"src":"Measurement","deg":-180,"db":-16.1},{"mhz":550,"src":"Measurement","deg":-165,"db":-16.9},{"mhz":550,"src":"Measurement","deg":-150,"db":-20.2},{"mhz":550,"src":"Measurement","deg":-139,"db":-23.8},{"mhz":550,"src":"Measurement","deg":-127,"db":-24.2},{"mhz":550,"src":"Measurement","deg":-112,"db":-23.8},{"mhz":550,"src":"Measurement","deg":-99,"db":-23},{"mhz":550,"src":"Measurement","deg":-91,"db":-20.2},{"mhz":550,"src":"Measurement","deg":-82,"db":-14.5},{"mhz":550,"src":"Measurement","deg":-70,"db":-9.3},{"mhz":550,"src":"Measurement","deg":-52,"db":-4},{"mhz":550,"src":"Measurement","deg":-34,"db":-1},{"mhz":550,"src":"Measurement","deg":-16,"db":0},{"mhz":550,"src":"Measurement","deg":-7,"db":0},{"mhz":550,"src":"Measurement","deg":8,"db":-0.4},{"mhz":550,"src":"Measurement","deg":26,"db":-2},{"mhz":550,"src":"Measurement","deg":44,"db":-5.2},{"mhz":550,"src":"Measurement","deg":61,"db":-10.1},{"mhz":550,"src":"Measurement","deg":76,"db":-16.1},{"mhz":550,"src":"Measurement","deg":88,"db":-23.4},{"mhz":550,"src":"Measurement","deg":97,"db":-30.6},{"mhz":550,"src":"Measurement","deg":100,"db":-34},{"mhz":550,"src":"Measurement","deg":106,"db":-30.6},{"mhz":550,"src":"Measurement","deg":115,"db":-24.2},{"mhz":550,"src":"Measurement","deg":130,"db":-19.4},{"mhz":550,"src":"Measurement","deg":148,"db":-16.9},{"mhz":550,"src":"Measurement","deg":166,"db":-16.3},{"mhz":550,"src":"Measurement","deg":180,"db":-16.3},
{"mhz":600,"src":"Simulation","deg":-180,"db":-15.3},{"mhz":600,"src":"Simulation","deg":-166,"db":-16.1},{"mhz":600,"src":"Simulation","deg":-151,"db":-19.4},{"mhz":600,"src":"Simulation","deg":-136,"db":-25},{"mhz":600,"src":"Simulation","deg":-123,"db":-30.6},{"mhz":600,"src":"Simulation","deg":-114,"db":-33.5},{"mhz":600,"src":"Simulation","deg":-105,"db":-29.8},{"mhz":600,"src":"Simulation","deg":-96,"db":-22.6},{"mhz":600,"src":"Simulation","deg":-84,"db":-15.3},{"mhz":600,"src":"Simulation","deg":-69,"db":-9.7},{"mhz":600,"src":"Simulation","deg":-51,"db":-4.8},{"mhz":600,"src":"Simulation","deg":-33,"db":-1.6},{"mhz":600,"src":"Simulation","deg":-15,"db":-0.2},{"mhz":600,"src":"Simulation","deg":0,"db":0},{"mhz":600,"src":"Simulation","deg":18,"db":-0.4},{"mhz":600,"src":"Simulation","deg":36,"db":-2},{"mhz":600,"src":"Simulation","deg":54,"db":-5.6},{"mhz":600,"src":"Simulation","deg":72,"db":-10.5},{"mhz":600,"src":"Simulation","deg":87,"db":-16.1},{"mhz":600,"src":"Simulation","deg":99,"db":-23.4},{"mhz":600,"src":"Simulation","deg":105,"db":-29.8},{"mhz":600,"src":"Simulation","deg":111,"db":-33.5},{"mhz":600,"src":"Simulation","deg":120,"db":-29.8},{"mhz":600,"src":"Simulation","deg":133,"db":-22.6},{"mhz":600,"src":"Simulation","deg":148,"db":-17.7},{"mhz":600,"src":"Simulation","deg":166,"db":-15.7},{"mhz":600,"src":"Simulation","deg":180,"db":-15.3},
{"mhz":600,"src":"Measurement","deg":-180,"db":-18.5},{"mhz":600,"src":"Measurement","deg":-169,"db":-16.1},{"mhz":600,"src":"Measurement","deg":-157,"db":-14.7},{"mhz":600,"src":"Measurement","deg":-142,"db":-14.5},{"mhz":600,"src":"Measurement","deg":-127,"db":-15.3},{"mhz":600,"src":"Measurement","deg":-111,"db":-16.5},{"mhz":600,"src":"Measurement","deg":-99,"db":-14.9},{"mhz":600,"src":"Measurement","deg":-87,"db":-10.5},{"mhz":600,"src":"Measurement","deg":-72,"db":-6},{"mhz":600,"src":"Measurement","deg":-54,"db":-2.4},{"mhz":600,"src":"Measurement","deg":-36,"db":-0.4},{"mhz":600,"src":"Measurement","deg":-21,"db":0},{"mhz":600,"src":"Measurement","deg":-9,"db":0},{"mhz":600,"src":"Measurement","deg":6,"db":-0.4},{"mhz":600,"src":"Measurement","deg":24,"db":-2},{"mhz":600,"src":"Measurement","deg":42,"db":-5.2},{"mhz":600,"src":"Measurement","deg":60,"db":-10.1},{"mhz":600,"src":"Measurement","deg":75,"db":-15.3},{"mhz":600,"src":"Measurement","deg":87,"db":-21.8},{"mhz":600,"src":"Measurement","deg":96,"db":-29},{"mhz":600,"src":"Measurement","deg":101,"db":-33},{"mhz":600,"src":"Measurement","deg":107,"db":-27.4},{"mhz":600,"src":"Measurement","deg":114,"db":-21.8},{"mhz":600,"src":"Measurement","deg":127,"db":-20.6},{"mhz":600,"src":"Measurement","deg":145,"db":-20.2},{"mhz":600,"src":"Measurement","deg":163,"db":-20.2},{"mhz":600,"src":"Measurement","deg":172,"db":-19.4},{"mhz":600,"src":"Measurement","deg":180,"db":-18.1},
{"mhz":650,"src":"Simulation","deg":-180,"db":-15.7},{"mhz":650,"src":"Simulation","deg":-165,"db":-16.3},{"mhz":650,"src":"Simulation","deg":-150,"db":-18.9},{"mhz":650,"src":"Simulation","deg":-135,"db":-23.7},{"mhz":650,"src":"Simulation","deg":-123,"db":-28.6},{"mhz":650,"src":"Simulation","deg":-115,"db":-32.2},{"mhz":650,"src":"Simulation","deg":-106,"db":-29.4},{"mhz":650,"src":"Simulation","deg":-93,"db":-23.7},{"mhz":650,"src":"Simulation","deg":-78,"db":-17.7},{"mhz":650,"src":"Simulation","deg":-63,"db":-12.5},{"mhz":650,"src":"Simulation","deg":-45,"db":-7.2},{"mhz":650,"src":"Simulation","deg":-27,"db":-3.2},{"mhz":650,"src":"Simulation","deg":-11,"db":-0.8},{"mhz":650,"src":"Simulation","deg":0,"db":0},{"mhz":650,"src":"Simulation","deg":16,"db":-0.4},{"mhz":650,"src":"Simulation","deg":34,"db":-2.8},{"mhz":650,"src":"Simulation","deg":52,"db":-6.8},{"mhz":650,"src":"Simulation","deg":70,"db":-12.5},{"mhz":650,"src":"Simulation","deg":85,"db":-18.1},{"mhz":650,"src":"Simulation","deg":97,"db":-24.1},{"mhz":650,"src":"Simulation","deg":106,"db":-30.2},{"mhz":650,"src":"Simulation","deg":112,"db":-32.2},{"mhz":650,"src":"Simulation","deg":121,"db":-29.4},{"mhz":650,"src":"Simulation","deg":136,"db":-22.9},{"mhz":650,"src":"Simulation","deg":151,"db":-18.1},{"mhz":650,"src":"Simulation","deg":166,"db":-16.1},{"mhz":650,"src":"Simulation","deg":180,"db":-15.7},
{"mhz":650,"src":"Measurement","deg":-180,"db":-14.9},{"mhz":650,"src":"Measurement","deg":-174,"db":-12.5},{"mhz":650,"src":"Measurement","deg":-162,"db":-10.9},{"mhz":650,"src":"Measurement","deg":-153,"db":-10.7},{"mhz":650,"src":"Measurement","deg":-141,"db":-11.7},{"mhz":650,"src":"Measurement","deg":-126,"db":-14.9},{"mhz":650,"src":"Measurement","deg":-110,"db":-18.5},{"mhz":650,"src":"Measurement","deg":-99,"db":-16.5},{"mhz":650,"src":"Measurement","deg":-87,"db":-12.5},{"mhz":650,"src":"Measurement","deg":-72,"db":-7.6},{"mhz":650,"src":"Measurement","deg":-57,"db":-3.6},{"mhz":650,"src":"Measurement","deg":-42,"db":-1},{"mhz":650,"src":"Measurement","deg":-27,"db":0},{"mhz":650,"src":"Measurement","deg":-14,"db":-0.2},{"mhz":650,"src":"Measurement","deg":1,"db":-1.6},{"mhz":650,"src":"Measurement","deg":16,"db":-3.2},{"mhz":650,"src":"Measurement","deg":34,"db":-5.6},{"mhz":650,"src":"Measurement","deg":52,"db":-8.8},{"mhz":650,"src":"Measurement","deg":70,"db":-12.9},{"mhz":650,"src":"Measurement","deg":85,"db":-16.9},{"mhz":650,"src":"Measurement","deg":97,"db":-21.3},{"mhz":650,"src":"Measurement","deg":105,"db":-25.7},{"mhz":650,"src":"Measurement","deg":112,"db":-22.9},{"mhz":650,"src":"Measurement","deg":121,"db":-19.3},{"mhz":650,"src":"Measurement","deg":130,"db":-17.1},{"mhz":650,"src":"Measurement","deg":139,"db":-17.1},{"mhz":650,"src":"Measurement","deg":151,"db":-18.9},{"mhz":650,"src":"Measurement","deg":159,"db":-20.1},{"mhz":650,"src":"Measurement","deg":169,"db":-18.1},{"mhz":650,"src":"Measurement","deg":178,"db":-14.9},
{"mhz":700,"src":"Simulation","deg":-180,"db":-15.7},{"mhz":700,"src":"Simulation","deg":-161,"db":-16.9},{"mhz":700,"src":"Simulation","deg":-143,"db":-20.5},{"mhz":700,"src":"Simulation","deg":-125,"db":-26.2},{"mhz":700,"src":"Simulation","deg":-110,"db":-29.8},{"mhz":700,"src":"Simulation","deg":-101,"db":-30.8},{"mhz":700,"src":"Simulation","deg":-92,"db":-25.3},{"mhz":700,"src":"Simulation","deg":-80,"db":-17.3},{"mhz":700,"src":"Simulation","deg":-65,"db":-10.1},{"mhz":700,"src":"Simulation","deg":-50,"db":-5.2},{"mhz":700,"src":"Simulation","deg":-32,"db":-1.6},{"mhz":700,"src":"Simulation","deg":-14,"db":-0.2},{"mhz":700,"src":"Simulation","deg":0,"db":0},{"mhz":700,"src":"Simulation","deg":16,"db":-0.4},{"mhz":700,"src":"Simulation","deg":34,"db":-2.4},{"mhz":700,"src":"Simulation","deg":52,"db":-6},{"mhz":700,"src":"Simulation","deg":70,"db":-11.3},{"mhz":700,"src":"Simulation","deg":85,"db":-16.9},{"mhz":700,"src":"Simulation","deg":98,"db":-23.7},{"mhz":700,"src":"Simulation","deg":107,"db":-29.4},{"mhz":700,"src":"Simulation","deg":113,"db":-30.6},{"mhz":700,"src":"Simulation","deg":122,"db":-28.6},{"mhz":700,"src":"Simulation","deg":137,"db":-22.9},{"mhz":700,"src":"Simulation","deg":155,"db":-18.1},{"mhz":700,"src":"Simulation","deg":170,"db":-16.1},{"mhz":700,"src":"Simulation","deg":180,"db":-15.7},
{"mhz":700,"src":"Measurement","deg":-180,"db":-14.9},{"mhz":700,"src":"Measurement","deg":-170,"db":-14.1},{"mhz":700,"src":"Measurement","deg":-158,"db":-14.5},{"mhz":700,"src":"Measurement","deg":-143,"db":-18.1},{"mhz":700,"src":"Measurement","deg":-125,"db":-24.5},{"mhz":700,"src":"Measurement","deg":-110,"db":-31.8},{"mhz":700,"src":"Measurement","deg":-101,"db":-35.2},{"mhz":700,"src":"Measurement","deg":-97,"db":-37},{"mhz":700,"src":"Measurement","deg":-92,"db":-31.8},{"mhz":700,"src":"Measurement","deg":-83,"db":-22.9},{"mhz":700,"src":"Measurement","deg":-71,"db":-14.1},{"mhz":700,"src":"Measurement","deg":-56,"db":-7.6},{"mhz":700,"src":"Measurement","deg":-38,"db":-3.2},{"mhz":700,"src":"Measurement","deg":-20,"db":-0.8},{"mhz":700,"src":"Measurement","deg":-5,"db":0},{"mhz":700,"src":"Measurement","deg":10,"db":-0.2},{"mhz":700,"src":"Measurement","deg":28,"db":-2},{"mhz":700,"src":"Measurement","deg":46,"db":-5.6},{"mhz":700,"src":"Measurement","deg":64,"db":-10.9},{"mhz":700,"src":"Measurement","deg":80,"db":-16.5},{"mhz":700,"src":"Measurement","deg":92,"db":-22.9},{"mhz":700,"src":"Measurement","deg":99,"db":-29.4},{"mhz":700,"src":"Measurement","deg":107,"db":-26.2},{"mhz":700,"src":"Measurement","deg":116,"db":-24.5},{"mhz":700,"src":"Measurement","deg":128,"db":-24.1},{"mhz":700,"src":"Measurement","deg":137,"db":-24.5},{"mhz":700,"src":"Measurement","deg":149,"db":-22.1},{"mhz":700,"src":"Measurement","deg":161,"db":-19.3},{"mhz":700,"src":"Measurement","deg":173,"db":-16.5},{"mhz":700,"src":"Measurement","deg":180,"db":-14.9},
{"mhz":750,"src":"Simulation","deg":-180,"db":-15.7},{"mhz":750,"src":"Simulation","deg":-165,"db":-16.1},{"mhz":750,"src":"Simulation","deg":-147,"db":-18.9},{"mhz":750,"src":"Simulation","deg":-130,"db":-23.7},{"mhz":750,"src":"Simulation","deg":-118,"db":-27.4},{"mhz":750,"src":"Simulation","deg":-110,"db":-28.7},{"mhz":750,"src":"Simulation","deg":-103,"db":-25.3},{"mhz":750,"src":"Simulation","deg":-94,"db":-19.7},{"mhz":750,"src":"Simulation","deg":-82,"db":-13.7},{"mhz":750,"src":"Simulation","deg":-67,"db":-8.4},{"mhz":750,"src":"Simulation","deg":-49,"db":-4},{"mhz":750,"src":"Simulation","deg":-31,"db":-1.2},{"mhz":750,"src":"Simulation","deg":-13,"db":-0.2},{"mhz":750,"src":"Simulation","deg":0,"db":0},{"mhz":750,"src":"Simulation","deg":14,"db":-0.4},{"mhz":750,"src":"Simulation","deg":32,"db":-2.4},{"mhz":750,"src":"Simulation","deg":50,"db":-6},{"mhz":750,"src":"Simulation","deg":67,"db":-10.9},{"mhz":750,"src":"Simulation","deg":82,"db":-16.5},{"mhz":750,"src":"Simulation","deg":94,"db":-22.9},{"mhz":750,"src":"Simulation","deg":102,"db":-28.6},{"mhz":750,"src":"Simulation","deg":108,"db":-29.5},{"mhz":750,"src":"Simulation","deg":115,"db":-27},{"mhz":750,"src":"Simulation","deg":127,"db":-22.1},{"mhz":750,"src":"Simulation","deg":142,"db":-18.1},{"mhz":750,"src":"Simulation","deg":160,"db":-16.1},{"mhz":750,"src":"Simulation","deg":180,"db":-15.7},
{"mhz":750,"src":"Measurement","deg":-180,"db":-15.4},{"mhz":750,"src":"Measurement","deg":-165,"db":-16.1},{"mhz":750,"src":"Measurement","deg":-150,"db":-19.3},{"mhz":750,"src":"Measurement","deg":-139,"db":-24.5},{"mhz":750,"src":"Measurement","deg":-133,"db":-30.2},{"mhz":750,"src":"Measurement","deg":-127,"db":-32.6},{"mhz":750,"src":"Measurement","deg":-118,"db":-33},{"mhz":750,"src":"Measurement","deg":-109,"db":-31.8},{"mhz":750,"src":"Measurement","deg":-103,"db":-27},{"mhz":750,"src":"Measurement","deg":-94,"db":-19.7},{"mhz":750,"src":"Measurement","deg":-82,"db":-13.3},{"mhz":750,"src":"Measurement","deg":-67,"db":-8},{"mhz":750,"src":"Measurement","deg":-49,"db":-3.6},{"mhz":750,"src":"Measurement","deg":-31,"db":-1},{"mhz":750,"src":"Measurement","deg":-13,"db":-0.1},{"mhz":750,"src":"Measurement","deg":2,"db":0},{"mhz":750,"src":"Measurement","deg":17,"db":-0.6},{"mhz":750,"src":"Measurement","deg":35,"db":-2.8},{"mhz":750,"src":"Measurement","deg":53,"db":-6.4},{"mhz":750,"src":"Measurement","deg":70,"db":-11.3},{"mhz":750,"src":"Measurement","deg":85,"db":-16.9},{"mhz":750,"src":"Measurement","deg":97,"db":-24.1},{"mhz":750,"src":"Measurement","deg":103,"db":-29.4},{"mhz":750,"src":"Measurement","deg":107,"db":-31},{"mhz":750,"src":"Measurement","deg":113,"db":-27},{"mhz":750,"src":"Measurement","deg":121,"db":-20.5},{"mhz":750,"src":"Measurement","deg":133,"db":-18.1},{"mhz":750,"src":"Measurement","deg":148,"db":-16.9},{"mhz":750,"src":"Measurement","deg":163,"db":-16.1},{"mhz":750,"src":"Measurement","deg":180,"db":-15.4},
{"mhz":800,"src":"Simulation","deg":-180,"db":-15.3},{"mhz":800,"src":"Simulation","deg":-163,"db":-16.1},{"mhz":800,"src":"Simulation","deg":-145,"db":-18.9},{"mhz":800,"src":"Simulation","deg":-127,"db":-23.3},{"mhz":800,"src":"Simulation","deg":-114,"db":-26.2},{"mhz":800,"src":"Simulation","deg":-107,"db":-26.8},{"mhz":800,"src":"Simulation","deg":-96,"db":-23.7},{"mhz":800,"src":"Simulation","deg":-84,"db":-18.1},{"mhz":800,"src":"Simulation","deg":-72,"db":-12.5},{"mhz":800,"src":"Simulation","deg":-54,"db":-6.4},{"mhz":800,"src":"Simulation","deg":-36,"db":-2.4},{"mhz":800,"src":"Simulation","deg":-18,"db":-0.4},{"mhz":800,"src":"Simulation","deg":0,"db":0},{"mhz":800,"src":"Simulation","deg":12,"db":-0.4},{"mhz":800,"src":"Simulation","deg":30,"db":-2.8},{"mhz":800,"src":"Simulation","deg":48,"db":-6.8},{"mhz":800,"src":"Simulation","deg":66,"db":-12.5},{"mhz":800,"src":"Simulation","deg":81,"db":-18.1},{"mhz":800,"src":"Simulation","deg":93,"db":-23.7},{"mhz":800,"src":"Simulation","deg":101,"db":-27.2},{"mhz":800,"src":"Simulation","deg":108,"db":-26.2},{"mhz":800,"src":"Simulation","deg":123,"db":-22.1},{"mhz":800,"src":"Simulation","deg":142,"db":-18.1},{"mhz":800,"src":"Simulation","deg":160,"db":-16.1},{"mhz":800,"src":"Simulation","deg":180,"db":-15.3},
{"mhz":800,"src":"Measurement","deg":-180,"db":-16.1},{"mhz":800,"src":"Measurement","deg":-169,"db":-16.1},{"mhz":800,"src":"Measurement","deg":-157,"db":-18.1},{"mhz":800,"src":"Measurement","deg":-148,"db":-22.1},{"mhz":800,"src":"Measurement","deg":-139,"db":-28.6},{"mhz":800,"src":"Measurement","deg":-133,"db":-31.8},{"mhz":800,"src":"Measurement","deg":-128,"db":-33},{"mhz":800,"src":"Measurement","deg":-123,"db":-33.4},{"mhz":800,"src":"Measurement","deg":-119,"db":-36.6},{"mhz":800,"src":"Measurement","deg":-108,"db":-39},{"mhz":800,"src":"Measurement","deg":-101,"db":-35.8},{"mhz":800,"src":"Measurement","deg":-95,"db":-30.2},{"mhz":800,"src":"Measurement","deg":-87,"db":-22.1},{"mhz":800,"src":"Measurement","deg":-78,"db":-15.7},{"mhz":800,"src":"Measurement","deg":-66,"db":-9.7},{"mhz":800,"src":"Measurement","deg":-51,"db":-4.8},{"mhz":800,"src":"Measurement","deg":-36,"db":-1.6},{"mhz":800,"src":"Measurement","deg":-21,"db":-0.2},{"mhz":800,"src":"Measurement","deg":-9,"db":0},{"mhz":800,"src":"Measurement","deg":6,"db":-0.8},{"mhz":800,"src":"Measurement","deg":21,"db":-2.8},{"mhz":800,"src":"Measurement","deg":36,"db":-6.4},{"mhz":800,"src":"Measurement","deg":51,"db":-11.7},{"mhz":800,"src":"Measurement","deg":66,"db":-17.3},{"mhz":800,"src":"Measurement","deg":78,"db":-20.9},{"mhz":800,"src":"Measurement","deg":90,"db":-25},{"mhz":800,"src":"Measurement","deg":99,"db":-28.2},{"mhz":800,"src":"Measurement","deg":108,"db":-29.4},{"mhz":800,"src":"Measurement","deg":117,"db":-31.8},{"mhz":800,"src":"Measurement","deg":125,"db":-35.8},{"mhz":800,"src":"Measurement","deg":131,"db":-39.8},{"mhz":800,"src":"Measurement","deg":137,"db":-35.8},{"mhz":800,"src":"Measurement","deg":145,"db":-26.2},{"mhz":800,"src":"Measurement","deg":151,"db":-21.3},{"mhz":800,"src":"Measurement","deg":160,"db":-18.9},{"mhz":800,"src":"Measurement","deg":169,"db":-17.7},{"mhz":800,"src":"Measurement","deg":180,"db":-16.5}
]
},
"spacing": 31,
"vconcat": [
{
 "title": {"text": "HIRAX Feed H-Cut", "anchor": "middle", "dx": -113, "offset": 26},
 "data": {"name": "hcut"},
 "transform": [
  {"calculate": "datum.mhz >= 650 ? 2 : 1", "as": "prow"},
  {"calculate": "((datum.mhz - 450) % 200) / 50 + 1", "as": "pcol"}
 ],
 "facet": {
  "row": {"field": "prow", "type": "ordinal", "header": {"labels": false, "title": "log power (uncalibrated)", "titleFontSize": 13, "titleFontWeight": "normal", "titlePadding": 20}},
  "column": {"field": "pcol", "type": "ordinal", "header": {"title": null, "labelOrient": "bottom", "labelExpr": "'Angle [Θ]'", "labelFontSize": 14.5, "labelPadding": 15}}
 },
 "spacing": {"row": 10, "column": 8.5},
 "resolve": {"axis": {"x": "independent", "y": "independent"}},
 "spec": {
  "width": 220, "height": 148,
  "encoding": {
   "x": {"field": "deg", "type": "quantitative", "scale": {"domain": [-198, 198], "nice": false, "zero": false}, "axis": {"values": [-100, 0, 100], "title": null}},
   "y": {"field": "db", "type": "quantitative", "scale": {"domain": [-30, 1.2], "nice": false, "zero": false}, "axis": {"values": [0, -10, -20, -30], "title": null}}
  },
  "layer": [
   {"transform": [{"filter": "datum.src == 'Simulation'"}], "mark": {"type": "line", "strokeWidth": 3.5, "interpolate": "monotone", "clip": true},
    "encoding": {"color": {"field": "src", "type": "nominal", "scale": {"domain": ["Simulation", "Measurement"], "range": ["#1f77b4", "#ff7f0e"]},
     "legend": {"title": "\u2060\u00a0\u00a0\u00a0\u00a0\u00a0\u00a0\u00a0\u00a0\u00a0Cut Type:", "orient": "none", "legendX": 522, "legendY": -55, "labelExpr": "datum.label == 'Measurement' ? 'Measurement\u00a0\u00a0\u00a0\u00a0\u00a0\u00a0\u00a0\u2060' : datum.label"}}}},
   {"transform": [{"filter": "datum.src == 'Measurement'"}], "mark": {"type": "line", "strokeWidth": 3.5, "interpolate": "monotone", "clip": true},
    "encoding": {"color": {"field": "src", "type": "nominal", "scale": {"domain": ["Simulation", "Measurement"], "range": ["#1f77b4", "#ff7f0e"]}}}},
   {"transform": [{"filter": "datum.src == 'Simulation' && datum.deg == 0"}, {"calculate": "datum.mhz + 'MHz'", "as": "lab"}],
    "mark": {"type": "text", "align": "left", "baseline": "middle", "fontSize": 17, "color": "#1a1a1a"},
    "encoding": {"x": {"datum": -183.5}, "y": {"datum": -2.1}, "text": {"field": "lab"}}}
  ]
 }
},
{
 "title": {"text": "HIRAX Feed E-Cut", "anchor": "middle", "dx": -113, "offset": 24.5},
 "data": {"name": "ecut"},
 "transform": [
  {"calculate": "datum.mhz >= 650 ? 2 : 1", "as": "prow"},
  {"calculate": "((datum.mhz - 450) % 200) / 50 + 1", "as": "pcol"}
 ],
 "facet": {
  "row": {"field": "prow", "type": "ordinal", "header": {"labels": false, "title": "log power (uncalibrated)", "titleFontSize": 13, "titleFontWeight": "normal", "titlePadding": 20}},
  "column": {"field": "pcol", "type": "ordinal", "header": {"title": null, "labelOrient": "bottom", "labelExpr": "'Angle [Θ]'", "labelFontSize": 14.5, "labelPadding": 12}}
 },
 "spacing": {"row": 8, "column": 8.5},
 "resolve": {"axis": {"x": "independent", "y": "independent"}},
 "spec": {
  "width": 220, "height": 148,
  "encoding": {
   "x": {"field": "deg", "type": "quantitative", "scale": {"domain": [-198, 198], "nice": false, "zero": false}, "axis": {"values": [-100, 0, 100], "title": null}},
   "y": {"field": "db", "type": "quantitative", "scale": {"domain": [-35, 0.85], "nice": false, "zero": false}, "axis": {"values": [0, -10, -20, -30], "title": null}}
  },
  "layer": [
   {"transform": [{"filter": "datum.src == 'Simulation'"}], "mark": {"type": "line", "strokeWidth": 3.5, "interpolate": "monotone", "clip": true},
    "encoding": {"stroke": {"field": "src", "type": "nominal", "sort": ["Simulation", "Measurement"], "scale": {"range": ["#1f77b4", "#ff7f0e"]},
     "legend": {"title": "\u2060\u00a0\u00a0\u00a0\u00a0\u00a0\u00a0\u00a0\u00a0\u00a0Cut Type:", "orient": "none", "legendX": 522, "legendY": 406.5, "labelExpr": "datum.label == 'Measurement' ? 'Measurement\u00a0\u00a0\u00a0\u00a0\u00a0\u00a0\u00a0\u2060' : datum.label"}}}},
   {"transform": [{"filter": "datum.src == 'Measurement'"}], "mark": {"type": "line", "strokeWidth": 3.5, "interpolate": "monotone", "clip": true},
    "encoding": {"stroke": {"field": "src", "type": "nominal", "sort": ["Simulation", "Measurement"], "scale": {"range": ["#1f77b4", "#ff7f0e"]}}}},
   {"transform": [{"filter": "datum.src == 'Simulation' && datum.deg == 0"}, {"calculate": "datum.mhz + 'MHz'", "as": "lab"}],
    "mark": {"type": "text", "align": "left", "baseline": "middle", "fontSize": 17, "color": "#1a1a1a"},
    "encoding": {"x": {"datum": -183.5}, "y": {"datum": -2.7}, "text": {"field": "lab"}}}
  ]
 }
}
]
}
